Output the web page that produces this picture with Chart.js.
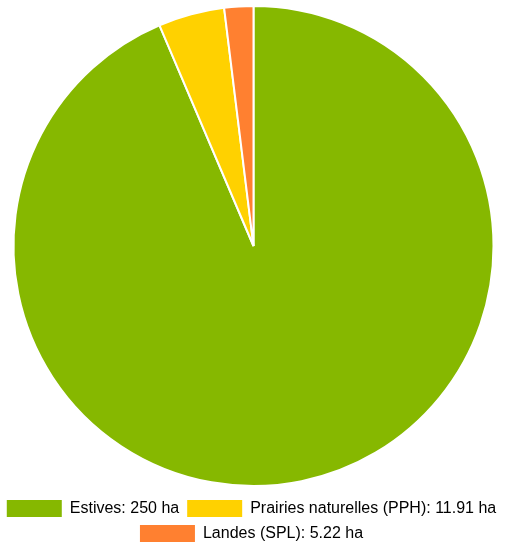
<!DOCTYPE html>
<html>
<head>
<meta charset="utf-8">
<script src="https://cdn.jsdelivr.net/npm/chart.js@4"></script>
<style>
  html, body { margin: 0; padding: 0; background: #fff; }
  #wrap { width: 507px; height: 547px; }
</style>
</head>
<body>
<div id="wrap"><canvas id="pie"></canvas></div>
<script>
// ── Data ────────────────────────────────────────────────
const categories = ['Estives', 'Prairies naturelles (PPH)', 'Landes (SPL)'];
const surfaces   = [250, 11.91, 5.22];
const colors     = ['#86b800', '#ffd100', '#ff8030'];
const unit       = 'ha';

const ctx = document.getElementById('pie').getContext('2d');

new Chart(ctx, {
  type: 'pie',
  data: {
    labels: categories,
    datasets: [{
      data: surfaces,
      backgroundColor: colors,
      borderColor: '#ffffff',
      borderWidth: 2,
      radius: 240,
    }],
  },
  options: {
    responsive: true,
    maintainAspectRatio: false,
    animation: false,
    layout: { padding: { top: -4, left: -4, right: 0, bottom: -5 } },
    plugins: {
      legend: {
        position: 'bottom',
        labels: {
          boxWidth: 55,
          boxHeight: 17,
          padding: 8,
          color: '#333',
          font: { family: 'Liberation Sans, Arial, sans-serif', size: 16 },
          generateLabels: chart => chart.data.labels.map((l, i) => ({
            text: `${l}: ${surfaces[i]} ${unit}`,
            fillStyle: colors[i],
            strokeStyle: colors[i],
            lineWidth: 0,
            hidden: false,
            index: i,
          })),
        },
      },
      tooltip: { enabled: false },
    },
  },
});
</script>
</body>
</html>
